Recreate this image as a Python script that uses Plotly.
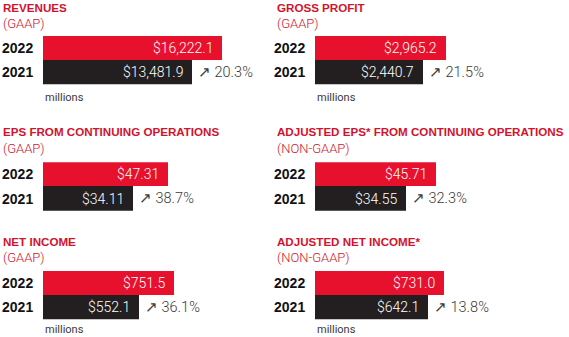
import plotly.graph_objects as go

W, H = 569, 337

titles = ["REVENUES", "GROSS PROFIT", "EPS FROM CONTINUING OPERATIONS",
          "ADJUSTED EPS* FROM CONTINUING OPERATIONS", "NET INCOME", "ADJUSTED NET INCOME*"]
subtitles = ["(GAAP)", "(GAAP)", "(GAAP)", "(NON-GAAP)", "(GAAP)", "(NON-GAAP)"]
years = ["2021", "2022"]
values_2022 = [16222.1, 2965.2, 47.31, 45.71, 751.5, 731.0]
values_2021 = [13481.9, 2440.7, 34.11, 34.55, 552.1, 642.1]
labels_2022 = ["$16,222.1", "$2,965.2", "$47.31", "$45.71", "$751.5", "$731.0"]
labels_2021 = ["$13,481.9", "$2,440.7", "$34.11", "$34.55", "$552.1", "$642.1"]
growth = ["20.3%", "21.5%", "38.7%", "32.3%", "36.1%", "13.8%"]
units = ["millions", "millions", "", "", "millions", "millions"]
axis_max = [18100, 4530, 75.6, 75.6, 1147, 1135]

RED = "#E8112D"
DARK = "#231F20"
TITLE_RED = "#D3122C"
GREY = "#3a3a3a"

# panel geometry in pixels
col_x = [43, 315]
col_title_x = [1, 275]
row_bar_top = [35.7, 162.3, 270.7]
row_title_y = [7.5, 131.5, 241.5]
row_sub_y = [23, 148, 257.5]
row_unit_y = [97, None, 329]
bar_h = 48.5
axis_w = 200

VALUE_FONT = dict(family="Roboto", size=14, color="white", weight=300)

fig = go.Figure()
annotations = []
layout_axes = {}

for i in range(6):
    r, c = divmod(i, 2)
    n = i + 1
    xa = "x" if n == 1 else f"x{n}"
    ya = "y" if n == 1 else f"y{n}"
    x0 = col_x[c]
    top = row_bar_top[r]

    fig.add_trace(go.Bar(
        x=[values_2021[i], values_2022[i]], y=[0, 1], orientation="h",
        width=1, marker=dict(color=[DARK, RED], line=dict(width=0)),
        xaxis=xa, yaxis=ya, hoverinfo="skip", showlegend=False,
    ))

    layout_axes["xaxis" if n == 1 else f"xaxis{n}"] = dict(
        domain=[x0 / W, (x0 + axis_w) / W], range=[0, axis_max[i]],
        visible=False, fixedrange=True, anchor=ya,
    )
    layout_axes["yaxis" if n == 1 else f"yaxis{n}"] = dict(
        domain=[1 - (top + bar_h) / H, 1 - top / H], range=[-0.5, 1.5],
        tickvals=[0, 1], ticktext=years, ticks="outside", ticklen=6,
        tickcolor="rgba(0,0,0,0)", showline=False, showgrid=False, zeroline=False,
        tickfont=dict(family="Liberation Sans", size=14, color="#111111", weight="bold"),
        fixedrange=True, anchor=xa,
    )

    # headings
    annotations.append(dict(
        x=col_title_x[c] / W, y=1 - row_title_y[r] / H, xref="paper", yref="paper",
        xanchor="left", yanchor="middle", showarrow=False, text=titles[i],
        font=dict(family="Liberation Sans", size=11.6, color=TITLE_RED, weight="bold"),
    ))
    annotations.append(dict(
        x=col_title_x[c] / W, y=1 - row_sub_y[r] / H, xref="paper", yref="paper",
        xanchor="left", yanchor="middle", showarrow=False, text=subtitles[i],
        font=dict(family="Roboto", size=13, color=TITLE_RED, weight=300),
    ))

    # values inside the bars
    annotations.append(dict(
        x=values_2022[i], y=1, xref=xa, yref=ya, xanchor="right", yanchor="middle",
        xshift=-7, showarrow=False, text=labels_2022[i], font=VALUE_FONT,
    ))
    annotations.append(dict(
        x=values_2021[i], y=0, xref=xa, yref=ya, xanchor="right", yanchor="middle",
        xshift=-7, showarrow=False, text=labels_2021[i], font=VALUE_FONT,
    ))

    # year-over-year growth
    annotations.append(dict(
        x=values_2021[i], y=0, xref=xa, yref=ya, xanchor="left", yanchor="middle",
        xshift=4, showarrow=False, text="↗ " + growth[i],
        font=dict(family="Roboto", size=14.5, color=GREY, weight=300),
    ))

    if units[i]:
        annotations.append(dict(
            x=x0 / W, y=1 - row_unit_y[r] / H, xref="paper", yref="paper",
            xanchor="left", yanchor="middle", showarrow=False, text=units[i],
            font=dict(family="Roboto", size=11, color=GREY, weight=400),
        ))

fig.update_layout(
    width=W, height=H, margin=dict(l=0, r=0, t=0, b=0),
    paper_bgcolor="white", plot_bgcolor="white",
    bargap=0, annotations=annotations, **layout_axes,
)

fig.write_html("out.html")
